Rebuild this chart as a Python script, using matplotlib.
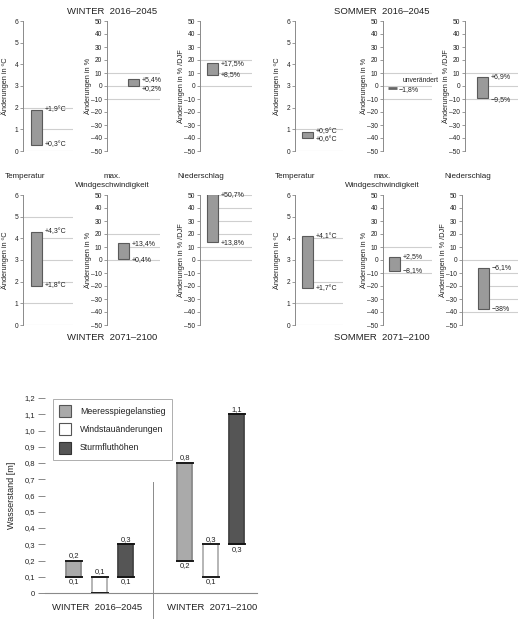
import matplotlib
matplotlib.use("Agg")
import matplotlib.pyplot as plt
from matplotlib.patches import Patch

plt.rcParams['font.family'] = ['Liberation Sans', 'DejaVu Sans']

# ---------------- data ----------------
periods = ["WINTER  2016–2045", "SOMMER  2016–2045", "WINTER  2071–2100", "SOMMER  2071–2100"]
variables = ["Temperatur", "max.\nWindgeschwindigkeit", "Niederschlag"]
ylabels = ["Änderungen in ºC", "Änderungen in %", "Änderungen in % /DJF"]
units = ["°C", "%", "%"]

temp_low = [0.3, 0.6, 1.8, 1.7]
temp_high = [1.9, 0.9, 4.3, 4.1]
wind_low = [0.2, -1.8, 0.4, -8.1]
wind_high = [5.4, -1.8, 13.4, 2.5]
precip_low = [8.5, -9.5, 13.8, -38.0]
precip_high = [17.5, 6.9, 50.7, -6.1]

temp_ticks = [0, 1, 2, 3, 4, 5, 6]
pct_ticks = [-50, -40, -30, -20, -10, 0, 10, 20, 30, 40, 50]

# gridlines shown in each panel (period x variable)
grid_temp = [[0, 1, 2], [0, 1], [0, 1, 2, 3, 4, 5], [0, 1, 2, 3, 4]]
grid_wind = [[-10, 0, 10], [-10, 0, 10], [0, 10, 20], [-10, 0, 10]]
grid_precip = [[0, 10, 20], [-10, 0, 10], [0, 10, 20, 30, 40, 50], [-40, -30, -20, -10, 0]]

sea_groups = ["WINTER  2016–2045", "WINTER  2071–2100"]
sea_series = ["Meeresspiegelanstieg", "Windstauänderungen", "Sturmfluthöhen"]
sea_low = [[0.1, 0.2], [0.0, 0.1], [0.1, 0.3]]
sea_high = [[0.2, 0.8], [0.1, 0.3], [0.3, 1.1]]
sea_ticks = [0, 0.1, 0.2, 0.3, 0.4, 0.5, 0.6, 0.7, 0.8, 0.9, 1.0, 1.1, 1.2]

# ---------------- layout ----------------
W, H = 520, 619
fig = plt.figure(figsize=(W / 100, H / 100), dpi=100)

col_x = [[(23, 73), (107, 160), (200, 252), (295, 343), (383, 432), (465, 518)],
         [(23, 73), (107, 160), (200, 252), (295, 343), (383, 432), (462, 518)]]
row_y = [(21, 151), (195, 325)]
bar_off = [[8, 21, 7, 7, 5, 12], [8, 11, 7, 7, 6, 16]]
bar_w = 11
# right edge of the rotated y label, px left of the axis
ylabel_dx = [-14, -15, -15]

bar_face = "#9a9a9a"
bar_edge = "#5a5a5a"
grid_c = "#cfcfcf"
axis_c = "#8a8a8a"
txt_c = "#222222"


def fmt(v, unit):
    s = "+" if v > 0 else ("−" if v < 0 else "")
    a = abs(v)
    if float(a).is_integer() and unit == "%" and v < -30:
        num = f"{int(a)}"
    else:
        num = f"{a:.1f}".replace(".", ",")
    return s + num + unit


label_adj = {
    # (period, var): (dy_top_px, dy_low_px)
    (0, 1): (-1, -3),
    (1, 0): (0, -2),
    (1, 2): (0, -1),
    (2, 1): (-1, 0),
}

for p in range(4):
    row = p // 2
    for v in range(3):
        col = (p % 2) * 3 + v
        x0, x1 = col_x[row][col]
        y0, y1 = row_y[row]
        ax = fig.add_axes([x0 / W, 1 - y1 / H, (x1 - x0) / W, (y1 - y0) / H])
        ax.set_xlim(0, x1 - x0)
        if v == 0:
            lo, hi, grid, ticks = temp_low[p], temp_high[p], grid_temp[p], temp_ticks
            ax.set_ylim(0, 6)
        elif v == 1:
            lo, hi, grid, ticks = wind_low[p], wind_high[p], grid_wind[p], pct_ticks
            ax.set_ylim(-50, 50)
        else:
            lo, hi, grid, ticks = precip_low[p], precip_high[p], grid_precip[p], pct_ticks
            ax.set_ylim(-50, 50)
        bx = bar_off[row][col]
        for g in grid:
            start = bx if lo <= g <= hi else 0
            ax.hlines(g, start, x1 - x0, color=grid_c, lw=0.8, zorder=1)
        if lo == hi:
            ax.hlines(lo, bx, bx + 9, color="#666666", lw=2.0, zorder=3)
        else:
            ax.bar(bx, hi - lo, bottom=lo, width=bar_w, align="edge",
                   facecolor=bar_face, edgecolor=bar_edge, lw=0.8, zorder=3)
        ax.set_yticks(ticks)
        ax.set_yticklabels([str(t).replace("-", "–") for t in ticks])
        ax.tick_params(axis="y", length=2.5, width=0.6, color=axis_c, labelsize=4.8,
                       labelcolor=txt_c, pad=1)
        ax.set_xticks([])
        for s in ["top", "right", "bottom"]:
            ax.spines[s].set_visible(False)
        ax.spines["left"].set_color(axis_c)
        ax.spines["left"].set_linewidth(0.7)
        ax.set_ylabel(ylabels[v], fontsize=5.3, color=txt_c)
        ax.yaxis.set_label_coords(ylabel_dx[v] / (x1 - x0), 0.5)
        ax.patch.set_alpha(0)

        unit = units[v]
        dtop, dlow = label_adj.get((p, v), (0, 0))
        bw = bar_w if lo != hi else 9
        if lo == hi:
            ax.annotate("unverändert", (bx + bw, lo), xytext=(6, 8), textcoords="offset pixels",
                        fontsize=4.9, color=txt_c, va="center", ha="left", annotation_clip=False)
            ax.annotate(fmt(lo, unit), (bx + bw, lo), xytext=(2, -1), textcoords="offset pixels",
                        fontsize=5, color=txt_c, va="center", ha="left", annotation_clip=False)
        else:
            ax.annotate(fmt(hi, unit), (bx + bw, hi), xytext=(3, dtop), textcoords="offset pixels",
                        fontsize=5, color=txt_c, va="center", ha="left", annotation_clip=False)
            ax.annotate(fmt(lo, unit), (bx + bw, lo), xytext=(3, dlow), textcoords="offset pixels",
                        fontsize=5, color=txt_c, va="center", ha="left", annotation_clip=False)

# headings
fig.text(112 / W, 1 - 11 / H, periods[0], fontsize=6.8, ha="center", va="center", color=txt_c)
fig.text(382 / W, 1 - 11 / H, periods[1], fontsize=6.8, ha="center", va="center", color=txt_c)
fig.text(112 / W, 1 - 337 / H, periods[2], fontsize=6.8, ha="center", va="center", color=txt_c)
fig.text(382 / W, 1 - 337 / H, periods[3], fontsize=6.8, ha="center", va="center", color=txt_c)
for off in (0, 270):
    fig.text((5 + off) / W, 1 - 176 / H, variables[0], fontsize=5.8, ha="left", va="center", color=txt_c)
    fig.text((112 + off) / W, 1 - 181 / H, variables[1], fontsize=5.8, ha="center", va="center",
             color=txt_c, linespacing=1.45, multialignment="center")
    fig.text((177 + off - (3 if off else 0)) / W, 1 - 176 / H, variables[2], fontsize=5.8, ha="left",
             va="center", color=txt_c)

# ---------------- sea level chart ----------------
ax = fig.add_axes([45 / W, 1 - 593 / H, 212 / W, 195 / H])
ax.set_xlim(-1.1, 7.05)
ax.set_ylim(0, 1.2)
group_x = [0.0, 4.27]
faces = ["#aaaaaa", "#ffffff", "#555555"]
sides = ["#8a8a8a", "#b0b0b0", "#444444"]
bw = 0.58
for i, name in enumerate(sea_series):
    for g in range(2):
        x = group_x[g] + i
        lo, hi = sea_low[i][g], sea_high[i][g]
        ax.bar(x, hi - lo, bottom=lo, width=bw, facecolor=faces[i], edgecolor=sides[i],
               lw=1.3, zorder=2)
        ax.hlines([lo, hi], x - bw / 2 - 0.06, x + bw / 2 + 0.06, color="#111111", lw=1.3, zorder=3)
        ax.annotate(f"{hi:.1f}".replace(".", ","), (x, hi), xytext=(0, 1.5),
                    textcoords="offset pixels", ha="center", va="bottom", fontsize=5.5, color=txt_c)
        if lo > 0:
            ax.annotate(f"{lo:.1f}".replace(".", ","), (x, lo), xytext=(0, -1.5),
                        textcoords="offset pixels", ha="center", va="top", fontsize=5.5, color=txt_c)

ax.set_yticks(sea_ticks)
ax.set_yticklabels(["0" if t == 0 else f"{t:.1f}".replace(".", ",") for t in sea_ticks])
ax.tick_params(axis="y", length=5, width=0.7, color=axis_c, labelsize=5.5, labelcolor=txt_c, pad=2)
ax.set_xticks([])
for s in ["top", "right", "left"]:
    ax.spines[s].set_visible(False)
ax.spines["bottom"].set_color(axis_c)
ax.spines["bottom"].set_linewidth(0.8)
ax.set_ylabel("Wasserstand [m]", fontsize=6.5, color=txt_c, labelpad=6)
ax.plot([3.05, 3.05], [-0.17, 0.683], color=axis_c, lw=0.7, clip_on=False)
ax.text(0.92, -0.09, sea_groups[0], ha="center", va="center", fontsize=6.8, color=txt_c, clip_on=False)
ax.text(5.32, -0.09, sea_groups[1], ha="center", va="center", fontsize=6.8, color=txt_c, clip_on=False)

handles = [Patch(facecolor=faces[0], edgecolor="#555555", lw=0.8),
           Patch(facecolor=faces[1], edgecolor="#555555", lw=0.8),
           Patch(facecolor=faces[2], edgecolor="#333333", lw=0.8)]
leg = ax.legend(handles, sea_series, loc="upper left", bbox_to_anchor=(53 / W, 1 - 399 / H),
                bbox_transform=fig.transFigure, fontsize=6.3, frameon=True, fancybox=False,
                edgecolor="#999999", handlelength=1.3, handleheight=1.75, handletextpad=1.1,
                labelspacing=0.7, borderpad=0.7, borderaxespad=0)
leg.get_frame().set_linewidth(0.7)
for t in leg.get_texts():
    t.set_color(txt_c)

fig.savefig("out.png", dpi=100)
